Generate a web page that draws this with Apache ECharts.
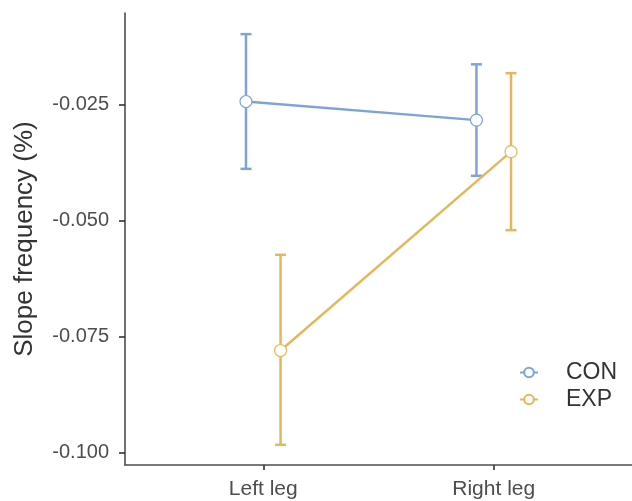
<!DOCTYPE html>
<html>
<head>
<meta charset="utf-8">
<script src="https://cdn.jsdelivr.net/npm/echarts@6/dist/echarts.min.js"></script>
<style>html,body{margin:0;padding:0;background:#fff;}#c{width:632px;height:501px;}</style>
</head>
<body>
<div id="c"></div>
<script>
const categories = ['Left leg', 'Right leg'];
const groups = ['CON', 'EXP'];
const conMean = [-0.0244, -0.0284];
const conLow = [-0.0389, -0.0404];
const conHigh = [-0.0099, -0.0164];
const expMean = [-0.0780, -0.0352];
const expLow = [-0.0983, -0.0521];
const expHigh = [-0.0574, -0.0183];
const yTicks = [-0.100, -0.075, -0.050, -0.025];
const colors = ['#7da4d9', '#e4b75c'];
const dodge = [-0.075, 0.075];

const means = [conMean, expMean];
const lows = [conLow, expLow];
const highs = [conHigh, expHigh];

function pts(g) { return categories.map((c, i) => [i + 1 + dodge[g], means[g][i]]); }
function errs(g) { return categories.map((c, i) => [i + 1 + dodge[g], lows[g][i], highs[g][i]]); }

function errRender(color) {
  return function (params, api) {
    const x = api.value(0);
    const lo = api.coord([x, api.value(1)]);
    const hi = api.coord([x, api.value(2)]);
    const w = 5.5;
    const style = { stroke: color, lineWidth: 2.5 };
    return {
      type: 'group',
      children: [
        { type: 'line', shape: { x1: lo[0], y1: lo[1], x2: hi[0], y2: hi[1] }, style },
        { type: 'line', shape: { x1: lo[0] - w, y1: lo[1], x2: lo[0] + w, y2: lo[1] }, style },
        { type: 'line', shape: { x1: hi[0] - w, y1: hi[1], x2: hi[0] + w, y2: hi[1] }, style }
      ]
    };
  };
}

const series = [];
groups.forEach((name, g) => {
  series.push({
    type: 'custom', name: name + '_err', renderItem: errRender(colors[g]),
    data: errs(g), encode: { x: 0, y: [1, 2] }, z: 1, silent: true
  });
});
groups.forEach((name, g) => {
  series.push({
    type: 'line', name: name, data: pts(g), symbol: 'circle', symbolSize: 12,
    itemStyle: { color: '#ffffff', borderColor: colors[g], borderWidth: 1.2 },
    lineStyle: { color: colors[g], width: 2.4 }, z: 3, animation: false
  });
});

const chart = echarts.init(document.getElementById('c'), null, { renderer: 'canvas' });
chart.setOption({
  animation: false,
  backgroundColor: '#ffffff',
  grid: { left: 125, top: 13, width: 511, bottom: 36, containLabel: false },
  legend: {
    data: groups, orient: 'vertical', left: 514, top: 356,
    itemWidth: 18, itemHeight: 12, itemGap: 4,
    textStyle: { fontFamily: 'Liberation Sans, Arial', fontSize: 23, color: '#333333', padding: [0, 0, 0, 23] }
  },
  xAxis: {
    type: 'value', min: 0.4, max: 2.6,
    axisLine: { show: true, lineStyle: { color: '#4d4d4d', width: 1.6 } },
    axisTick: { show: true, customValues: [1, 2], length: 5, lineStyle: { color: '#333', width: 1.6 } },
    axisLabel: { customValues: [1, 2], formatter: v => categories[Math.round(v) - 1], margin: 14,
      fontFamily: 'Liberation Sans, Arial', fontSize: 21, color: '#4d4d4d' },
    splitLine: { show: false }
  },
  yAxis: {
    type: 'value', min: -0.10265, max: -0.00535,
    name: 'Slope frequency (%)', nameLocation: 'middle', nameGap: 87,
    nameTextStyle: { fontFamily: 'Liberation Sans, Arial', fontSize: 26, color: '#333333' },
    axisLine: { show: true, lineStyle: { color: '#4d4d4d', width: 1.6 } },
    axisTick: { show: true, customValues: yTicks, length: 6, lineStyle: { color: '#333', width: 1.6 } },
    axisLabel: { customValues: yTicks, formatter: v => v.toFixed(3), margin: 16,
      fontFamily: 'Liberation Sans, Arial', fontSize: 20, color: '#4d4d4d' },
    splitLine: { show: false }
  },
  series: series
});
</script>
</body>
</html>
